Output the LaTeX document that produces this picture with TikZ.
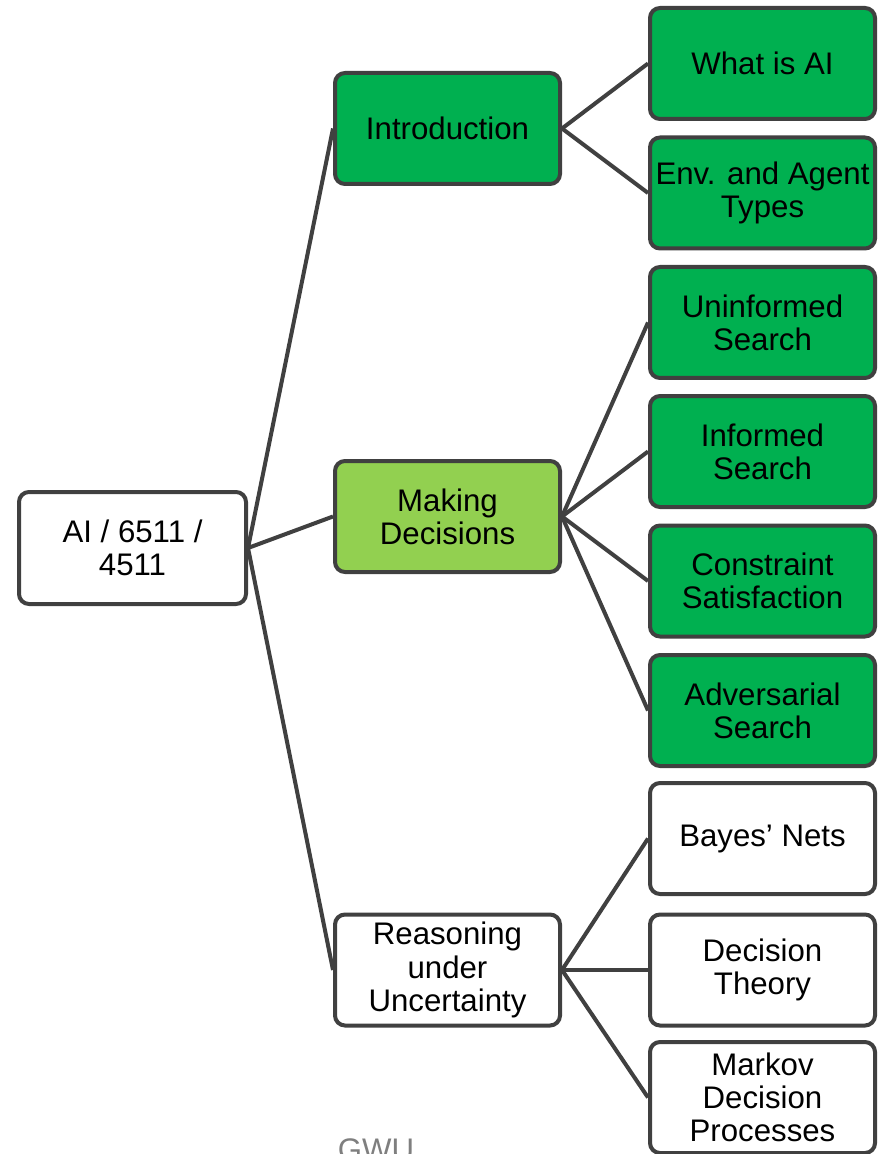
\documentclass[tikz,border=0pt]{standalone}
\usepackage{fontspec}
\setmainfont{Liberation Sans}
\definecolor{edge}{HTML}{404040}
\definecolor{darkgreen}{HTML}{00B050}
\definecolor{lightgreen}{HTML}{92D050}
\definecolor{footgrey}{HTML}{7F7F7F}
\begin{document}
\begin{tikzpicture}[x=0.5pt,y=-0.5pt,
  topic/.style={draw=edge, line width=2pt, rounded corners=5pt,
    minimum width=112.5pt, minimum height=55.5pt, inner sep=0pt,
    align=center, font=\fontsize{15.6}{16.6}\selectfont, text=black},
  plain/.style={topic, fill=white},
  dark/.style={topic, fill=darkgreen},
  light/.style={topic, fill=lightgreen},
  link/.style={draw=edge, line width=2pt}]
\clip (0,0) rectangle (879,1154);
\fill[white] (0,0) rectangle (879,1154);

% root
\node[plain, minimum width=113.5pt, minimum height=56pt] (root) at (132.5,548) {AI / 6511 /\\4511};

% second level
\node[dark]  (intro)  at (447.5,128.5) {Introduction};
\node[light] (decide) at (447.5,516.5) {Making\\Decisions};
\node[plain] (reason) at (447.5,970) {Reasoning\\under\\Uncertainty};

% third level
\node[dark]  (whatai)  at (762.5,63.5)  {What is AI};
\node[dark]  (env)     at (762.5,193)   {Env. and Agent\\Types};
\node[dark]  (uninf)   at (762.5,322.5) {Uninformed\\Search};
\node[dark]  (inf)     at (762.5,451.5) {Informed\\Search};
\node[dark]  (csp)     at (762.5,581)   {Constraint\\Satisfaction};
\node[dark]  (adv)     at (762.5,710.5) {Adversarial\\Search};
\node[plain] (bayes)   at (762.5,838.5) {Bayes’ Nets};
\node[plain] (dtheory) at (762.5,970)   {Decision\\Theory};
\node[plain] (mdp)     at (762.5,1097.5) {Markov\\Decision\\Processes};

% connectors
\foreach \c in {intro,decide,reason}
  \draw[link] (root.east) -- (\c.west);
\foreach \c in {whatai,env}
  \draw[link] (intro.east) -- (\c.west);
\foreach \c in {uninf,inf,csp,adv}
  \draw[link] (decide.east) -- (\c.west);
\foreach \c in {bayes,dtheory,mdp}
  \draw[link] (reason.east) -- (\c.west);

% footer
\node[anchor=base, inner sep=0pt, text=footgrey, font=\fontsize{15.6}{16.6}\selectfont] (foot) at (376,1160) {GWU};
\end{tikzpicture}
\end{document}
